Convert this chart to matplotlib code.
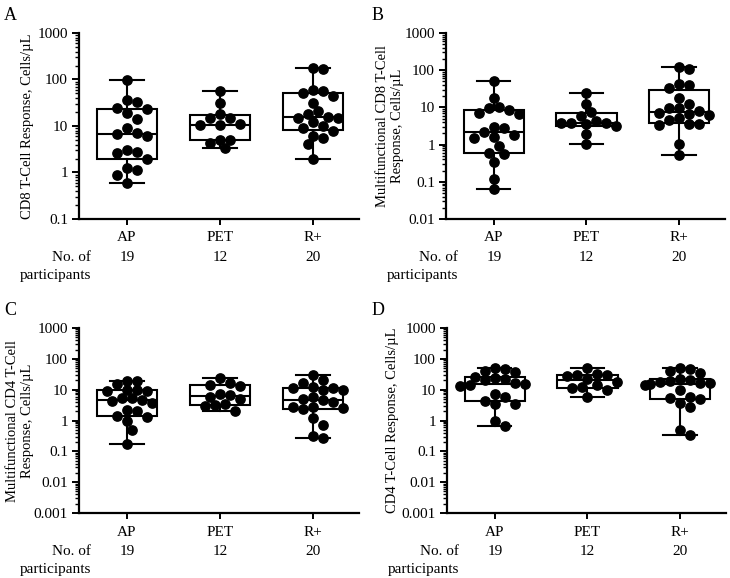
import numpy as np
import matplotlib
matplotlib.use('Agg')
import matplotlib.pyplot as plt
from matplotlib.ticker import FixedFormatter, FixedLocator, NullFormatter

plt.rcParams['font.family'] = ['Liberation Serif', 'DejaVu Serif']

groups = ['AP', 'PET', 'R+']
counts = [19, 12, 20]

# panel A: CD8 T-cell response, cells/uL
a_ap = [98, 35.5, 33, 24.7, 22.7, 18.7, 13.8, 9.2, 7.1, 6.6, 6.1, 3.0, 2.8, 2.6, 2.0, 1.26, 1.16, 0.88, 0.6]
a_pet = [56, 30.6, 17.7, 15, 15, 11.2, 10.3, 10.3, 5.1, 5.1, 4.4, 3.3]
a_rp = [176, 167, 59, 57, 52, 44, 31, 21, 18, 16, 15.2, 15.2, 12, 10.2, 9.2, 7.8, 6.2, 5.6, 4.2, 1.97]

# panel B: multifunctional CD8
b_ap = [50, 18.4, 10.5, 9.5, 8.6, 7.0, 6.6, 3.05, 2.75, 2.24, 1.82, 1.57, 1.55, 0.92, 0.58, 0.56, 0.35, 0.119, 0.063]
b_pet = [24, 12.5, 7.3, 5.7, 4.2, 3.9, 3.8, 3.8, 3.5, 3.1, 1.94, 1.04]
b_rp = [119, 110, 42, 40, 33, 17.8, 12.2, 9.9, 9.9, 8.1, 7.0, 6.6, 6.3, 5.1, 4.6, 3.6, 3.6, 3.4, 1.02, 0.53]

# panel C: multifunctional CD4
c_ap = [19.4, 19.4, 15, 9.6, 9.6, 9.0, 9.0, 5.2, 5.2, 4.7, 4.2, 3.6, 2.2, 2.1, 1.4, 1.3, 0.95, 0.5, 0.17]
c_pet = [24, 16, 14, 13, 7, 6.5, 6, 5, 3.5, 3.2, 3.0, 2.1]
c_rp = [29.5, 20, 16.5, 12.5, 11.5, 11, 10, 9.5, 5.6, 5.0, 4.5, 4.0, 2.8, 2.7, 2.5, 2.3, 1.2, 0.72, 0.32, 0.28]

# panel D: CD4 T-cell response
d_ap = [52, 46, 41, 38, 26, 24, 22, 20, 17, 15, 14, 13, 7.5, 6.0, 4.3, 3.5, 3.4, 0.95, 0.66]
d_pet = [52, 33, 31, 29, 28, 22, 18, 14, 12, 11, 9.5, 5.8]
d_rp = [52, 46, 40, 35, 22, 20, 19, 18, 17, 16, 15, 14, 9.5, 6.0, 5.5, 5.0, 3.6, 2.8, 0.5, 0.33]

panels = [
    ('A', 'CD8 T-Cell Response, Cells/µL', [a_ap, a_pet, a_rp], 0.1),
    ('B', 'Multifunctional CD8 T-Cell\nResponse, Cells/µL', [b_ap, b_pet, b_rp], 0.01),
    ('C', 'Multifunctional CD4 T-Cell\nResponse, Cells/µL', [c_ap, c_pet, c_rp], 0.001),
    ('D', 'CD4 T-Cell Response, Cells/µL', [d_ap, d_pet, d_rp], 0.001),
]

W, H = 730, 578
# axes boxes in pixels: left, top, right, bottom
boxes = [(79, 33, 359, 219), (446, 33, 725, 219), (79, 328, 359, 513), (447, 328, 726, 513)]
label_x = [-0.16, -0.152, -0.16, -0.172]
letter_pos = [(4, 20), (372, 20), (4, 315), (372, 315)]

fig = plt.figure(figsize=(W / 100, H / 100), dpi=100)
fs = 11


def swarm(ax, x0, vals, d):
    # simple beeswarm in pixel space
    pts = ax.transData.transform([(x0, v) for v in vals])
    order = np.argsort(-np.array(vals))
    placed = []
    xs = np.zeros(len(vals))
    step = d * 0.5
    for i in order:
        y = pts[i, 1]
        for k in [0, 1, -1, 2, -2, 3, -3, 4, -4, 5, -5, 6, -6, 7, -7]:
            x = pts[i, 0] + k * step
            if all((x - px) ** 2 + (y - py) ** 2 >= (0.93 * d) ** 2 for px, py in placed):
                break
        placed.append((x, y))
        xs[i] = ax.transData.inverted().transform((x, y))[0]
    return xs


for (letter, ylab, data, ymin), (l, t, r, b), lx, lp in zip(panels, boxes, label_x, letter_pos):
    ax = fig.add_axes([l / W, 1 - b / H, (r - l) / W, (b - t) / H])
    ax.set_yscale('log')
    ax.set_ylim(ymin, 1000)
    ax.set_xlim(-0.516, 2.495)

    stats = []
    for g, v in zip(groups, data):
        v = np.array(v)
        q1, med, q3 = np.percentile(v, [25, 50, 75], method='weibull')
        stats.append(dict(med=med, q1=q1, q3=q3, whislo=v.min(), whishi=v.max(), fliers=[], label=g))
    ax.bxp(stats, positions=[0, 1, 2], widths=0.65, showfliers=False, patch_artist=True,
           boxprops=dict(facecolor='white', edgecolor='black', linewidth=1.5),
           medianprops=dict(color='black', linewidth=1.5),
           whiskerprops=dict(color='black', linewidth=1.5),
           capprops=dict(color='black', linewidth=1.5), capwidths=0.36)

    for i, v in enumerate(data):
        xs = swarm(ax, i, v, 10.0)
        ax.plot(xs, v, 'o', color='black', markersize=6.7, zorder=5, clip_on=False)

    for s in ['top', 'right']:
        ax.spines[s].set_visible(False)
    for s in ['left', 'bottom']:
        ax.spines[s].set_linewidth(1.6)

    k0 = int(round(np.log10(ymin)))
    decades = [10.0 ** k for k in range(k0, 4)]
    minors = [m * 10.0 ** k for k in range(k0, 3) for m in range(2, 10)]
    ax.yaxis.set_major_locator(FixedLocator(decades))
    ax.yaxis.set_major_formatter(FixedFormatter([('%g' % dd) for dd in decades]))
    ax.yaxis.set_minor_locator(FixedLocator(minors))
    ax.yaxis.set_minor_formatter(NullFormatter())
    ax.tick_params(axis='y', which='major', length=5, width=1.4, labelsize=fs, pad=3)
    ax.tick_params(axis='y', which='minor', length=3, width=1.0)
    ax.set_xticks([0, 1, 2])
    ax.set_xticklabels(groups)
    ax.tick_params(axis='x', length=4, width=1.4, labelsize=fs, pad=5)

    ax.set_ylabel(ylab, fontsize=10.5, linespacing=1.2)
    ax.yaxis.set_label_coords(lx, 0.5)

    for i, n in enumerate(counts):
        ax.annotate(str(n), xy=(i, 0), xycoords=('data', 'axes fraction'),
                    xytext=(0, -27.5), textcoords='offset points',
                    ha='center', va='center', fontsize=fs)
    ax.annotate('No. of', xy=(-0.39, 0), xycoords=('data', 'axes fraction'),
                xytext=(0, -27.5), textcoords='offset points',
                ha='right', va='center', fontsize=fs)
    ax.annotate('participants', xy=(-0.39, 0), xycoords=('data', 'axes fraction'),
                xytext=(0, -40.5), textcoords='offset points',
                ha='right', va='center', fontsize=fs)

    fig.text(lp[0] / W, 1 - lp[1] / H, letter, fontsize=13, ha='left', va='baseline')

fig.savefig('out.png', dpi=100, facecolor='white')
